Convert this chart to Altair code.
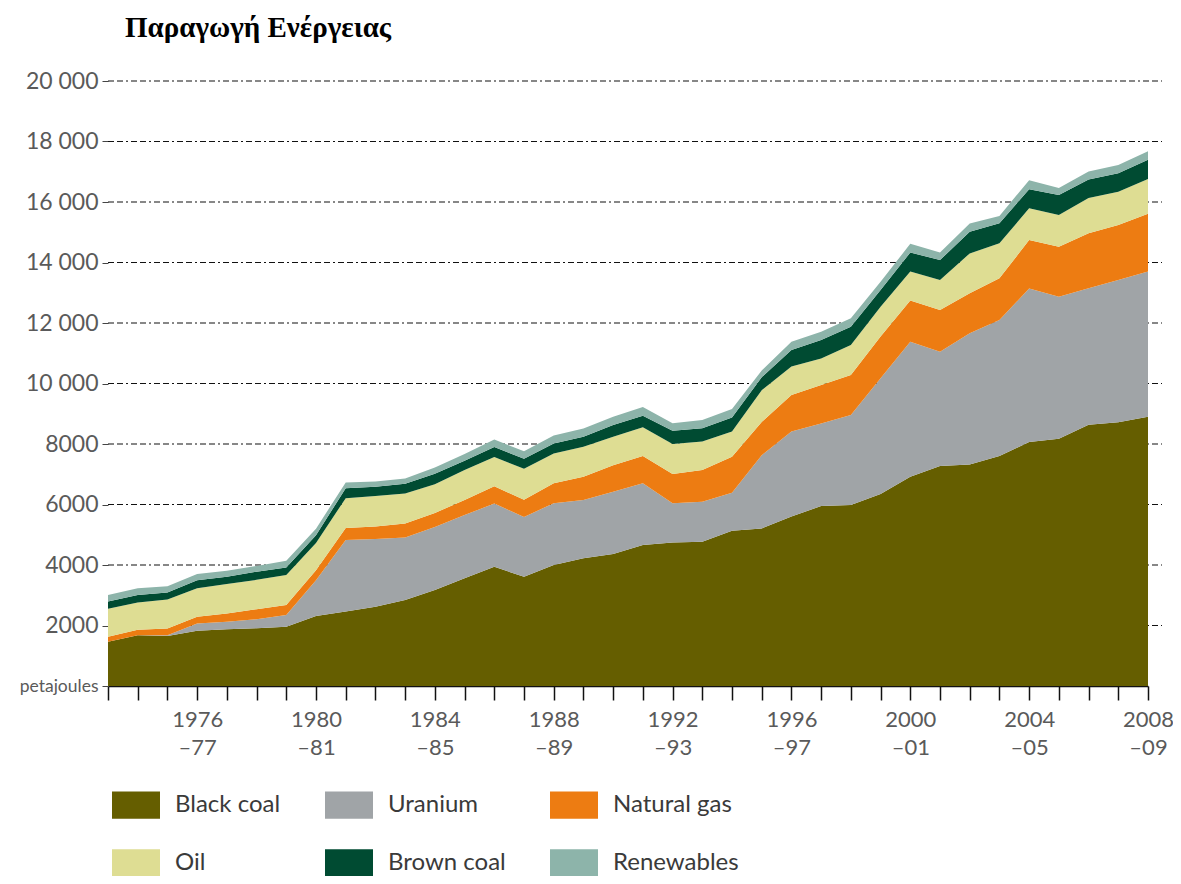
import altair as alt
import pandas as pd

title_text = "Παραγωγή Ενέργειας"

periods = ["1973–74", "1974–75", "1975–76", "1976–77", "1977–78", "1978–79",
           "1979–80", "1980–81", "1981–82", "1982–83", "1983–84", "1984–85",
           "1985–86", "1986–87", "1987–88", "1988–89", "1989–90", "1990–91",
           "1991–92", "1992–93", "1993–94", "1994–95", "1995–96", "1996–97",
           "1997–98", "1998–99", "1999–00", "2000–01", "2001–02", "2002–03",
           "2003–04", "2004–05", "2005–06", "2006–07", "2007–08", "2008–09"]
shown_periods = ["1976–77", "1980–81", "1984–85", "1988–89", "1992–93",
                 "1996–97", "2000–01", "2004–05", "2008–09"]

black_coal = [1460, 1680, 1650, 1830, 1880, 1910, 1960, 2310, 2460, 2620, 2840, 3170,
              3560, 3940, 3610, 4000, 4220, 4360, 4660, 4740, 4770, 5130, 5210, 5600,
              5950, 5980, 6350, 6920, 7270, 7320, 7600, 8070, 8170, 8640, 8720, 8900]
uranium = [0, 0, 30, 240, 240, 300, 390, 1190, 2370, 2240, 2070, 2090,
           2090, 2090, 1980, 2040, 1930, 2060, 2040, 1300, 1320, 1260, 2420, 2810,
           2730, 2980, 3820, 4460, 3780, 4340, 4500, 5070, 4700, 4510, 4700, 4800]
natural_gas = [170, 180, 220, 220, 280, 330, 330, 330, 390, 410, 460, 460,
               500, 570, 570, 660, 770, 880, 900, 970, 1050, 1190, 1100, 1210,
               1270, 1320, 1380, 1360, 1380, 1320, 1380, 1600, 1650, 1820, 1820, 1910]
oil = [920, 900, 960, 940, 970, 970, 990, 900, 990, 1010, 990, 950,
       990, 970, 1020, 990, 990, 940, 950, 990, 940, 830, 1050, 940,
       880, 990, 990, 960, 990, 1320, 1160, 1050, 1050, 1160, 1100, 1150]
brown_coal = [240, 250, 230, 270, 240, 270, 250, 250, 330, 310, 330, 350,
              310, 330, 330, 330, 330, 390, 380, 440, 440, 470, 430, 550,
              610, 610, 550, 630, 660, 720, 660, 630, 660, 610, 610, 640]
renewables = [220, 220, 210, 200, 200, 190, 220, 220, 190, 170, 170, 200,
              220, 250, 250, 260, 270, 270, 290, 250, 270, 280, 220, 270,
              270, 280, 270, 290, 250, 270, 240, 300, 230, 270, 270, 280]

sources = ["Black coal", "Uranium", "Natural gas", "Oil", "Brown coal", "Renewables"]
colors = ["#655e00", "#a0a4a7", "#ed7c12", "#dedd93", "#004b32", "#8db4aa"]
series = [black_coal, uranium, natural_gas, oil, brown_coal, renewables]

y_ticks = [0, 2000, 4000, 6000, 8000, 10000, 12000, 14000, 16000, 18000, 20000]
grid_values = [2000, 4000, 6000, 8000, 10000, 12000, 14000, 16000, 18000, 20000]

rows = []
for k, (name, vals) in enumerate(zip(sources, series)):
    for p, v in zip(periods, vals):
        rows.append({"period": p, "source": name, "value": v, "k": k})
df = pd.DataFrame(rows)

y_scale = alt.Scale(domain=[0, 20000], nice=False)

shown_js = "[" + ",".join("'" + s + "'" for s in shown_periods) + "]"

x_axis = alt.Axis(
    title=None, labelAngle=0,
    labelExpr=f"indexof({shown_js}, datum.value) >= 0 ? [slice(datum.value, 0, 4), slice(datum.value, 4)] : ''",
    tickSize=14, tickColor="#111", tickWidth=1.5,
    domainColor="#111", domainWidth=1.5,
    labelFont="Lato", labelFontSize=22, labelColor="#5a5a5a",
    labelLineHeight=28, labelPadding=9, labelOverlap=False,
)

y_axis = alt.Axis(
    title=None, values=y_ticks, grid=False, domain=False,
    tickSize=6, tickColor="#444", tickWidth=1,
    labelExpr="datum.value == 0 ? 'petajoules' : (datum.value >= 10000 ? replace(format(datum.value, ','), ',', ' ') : format(datum.value, 'd'))",
    labelFont="Lato",
    labelFontSize={"condition": {"test": "datum.value == 0", "value": 17.5}, "value": 23},
    labelColor="#5a5a5a", labelPadding=4,
)

grid = alt.Chart(pd.DataFrame({"v": grid_values})).mark_rule(
    color="#111", strokeWidth=1.2, strokeDash=[6, 3, 6, 3, 2, 3]
).encode(
    y=alt.Y("v:Q", scale=y_scale, axis=y_axis),
    x=alt.value(0), x2=alt.value(1054),
)

area = alt.Chart(df).mark_area(opacity=1).encode(
    x=alt.X("period:O", sort=periods, scale=alt.Scale(type="point", padding=0), axis=x_axis),
    y=alt.Y("value:Q", stack="zero", scale=y_scale, axis=y_axis),
    color=alt.Color("source:N", sort=sources,
                    scale=alt.Scale(domain=sources, range=colors),
                    legend=alt.Legend(
                        title=None, orient="none", legendX=4, legendY=700,
                        columns=3, direction="horizontal", gridAlign="each",
                        symbolType="M-1,-0.57H1V0.57H-1Z", symbolSize=2304,
                        symbolStrokeWidth=0, symbolOpacity=1,
                        labelFont="Lato", labelFontSize=24, labelColor="#3a3a3a",
                        labelOffset=15, rowPadding=20, columnPadding=44,
                        labelLimit=300,
                    )),
    order=alt.Order("k:Q", sort="ascending"),
)

title = alt.Chart(pd.DataFrame({"t": [title_text]})).mark_text(
    align="left", baseline="alphabetic", font="Liberation Serif",
    fontSize=29, fontWeight="bold", color="#000"
).encode(x=alt.value(17), y=alt.value(-44), text="t:N")

chart = alt.layer(grid, area, title).properties(
    width=1040, height=605,
    autosize=alt.AutoSizeParams(type="none"),
    padding={"left": 100, "top": 73, "right": 25, "bottom": 190},
).configure_view(stroke=None)

chart.save("out.html", embed_options={"renderer": "svg", "actions": False})
